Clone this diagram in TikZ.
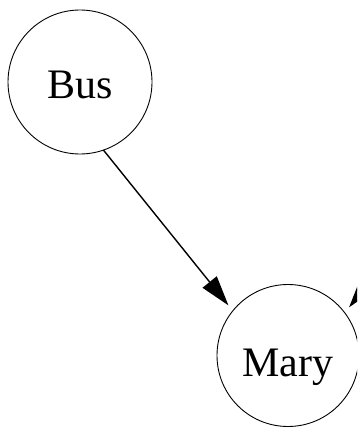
\documentclass[tikz,border=0pt]{standalone}
\usepackage{fontspec}
\setmainfont{Liberation Serif}
\usetikzlibrary{arrows.meta}
\begin{document}
\begin{tikzpicture}[x=1pt,y=-1pt,
  statenode/.style={circle,draw,line width=0.9pt,inner sep=0pt,outer sep=0pt,text depth=0pt,font=\fontsize{42}{42}\selectfont},
  edgeline/.style={line width=1.4pt,-{Triangle[length=30pt,width=18pt]},shorten >=7pt}]
\useasboundingbox (0,0) rectangle (357,428);
\clip (0,0) rectangle (357,428);
\node[statenode,minimum size=144pt,text height=32.6pt] (bus) at (80,82) {Bus};
\node[statenode,minimum size=142pt,text height=42.4pt] (mary) at (288,355.5) {Mary};
\coordinate (other) at (472,153);
\draw[edgeline] (bus.-71.3) -- (mary.141.8);
\draw[edgeline] (other) -- (mary.37.9);
\end{tikzpicture}
\end{document}
